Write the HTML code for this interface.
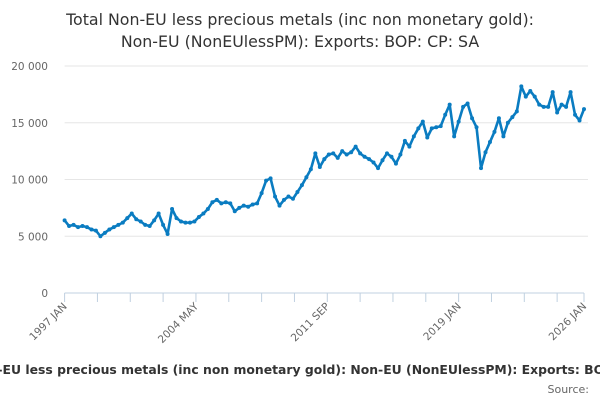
<!DOCTYPE html>
<html><head><meta charset="utf-8"><style>
body{margin:0;width:600px;height:400px;overflow:hidden;background:#fff;font-family:"DejaVu Sans",sans-serif}
</style></head><body>
<svg id="chart" width="600" height="400" xmlns="http://www.w3.org/2000/svg" font-family="DejaVu Sans, sans-serif">
<text x="300" y="25" text-anchor="middle" font-size="15.8" fill="#333">Total Non-EU less precious metals (inc non monetary gold):</text>
<text x="300" y="47" text-anchor="middle" font-size="15.8" fill="#333">Non-EU (NonEUlessPM): Exports: BOP: CP: SA</text>
<g id="grid"></g><g id="xaxis"></g><g id="series"></g>
<text x="300" y="374" text-anchor="middle" font-size="12.4" font-weight="bold" fill="#333">Total Non-EU less precious metals (inc non monetary gold): Non-EU (NonEUlessPM): Exports: BOP: CP: SA</text>
<text x="589" y="393" text-anchor="end" font-size="11" fill="#666">Source:</text>
</svg>
<script>
const yTicks=[0,5000,10000,15000,20000];
const yTickLabels=["0","5 000","10 000","15 000","20 000"];
const xTickLabels=["1997 JAN","2004 MAY","2011 SEP","2019 JAN","2026 JAN"];
const xTickMonths=[0,88,176,264,348];
const startYear=1997;
const values=[
6400,5900,6000,5800, 5900,5800,5600,5500, 5000,5300,5600,5800, 6000,6200,6600,7000,
6500,6300,6000,5900, 6400,7000,6000,5200, 7400,6600,6300,6200, 6200,6300,6700,7000,
7400,8000,8200,7900, 8000,7900,7200,7500, 7700,7600,7800,7900, 8800,9900,10100,8500,
7700,8200,8500,8300, 8900,9500,10200,10900, 12300,11100,11800,12200, 12300,11900,12500,12200,
12400,12900,12300,12000, 11800,11500,11000,11700, 12300,12000,11400,12200, 13400,12900,13800,14500,
15100,13700,14500,14600, 14700,15700,16600,13800, 15100,16400,16700,15400, 14600,11000,12400,13300,
14200,15400,13800,15000, 15500,16000,18200,17300, 17800,17300,16600,16400, 16400,17700,15900,16600,
16400,17700,15700,15200, 16200];
const NS="http://www.w3.org/2000/svg";
const x0=64.6,x1=584,y0=293,y1=66;
const xm=m=>x0+(x1-x0)*m/348;
const y=v=>y0-(y0-y1)*v/20000;
function mk(t,a,p){const e=document.createElementNS(NS,t);for(const k in a)e.setAttribute(k,a[k]);p.appendChild(e);return e;}
const grid=document.getElementById('grid');
yTicks.forEach((v,i)=>{
 if(v>0){const l=mk('line',{x1:x0,x2:x1+4,y1:y(v),y2:y(v),stroke:'#e6e6e6','stroke-width':1},grid);
 
 }
 const t=mk('text',{x:48,y:y(v)+4,'text-anchor':'end','font-size':10.5,fill:'#666'},grid);
 t.textContent=yTickLabels[i];
 
 
});
const xa=document.getElementById('xaxis');
const ax=mk('line',{x1:x0,x2:x1,y1:y0,y2:y0,stroke:'#c0d0e0','stroke-width':1},xa);


for(let m=0;m<=348;m+=22){const tk=mk('line',{x1:xm(m),x2:xm(m),y1:y0,y2:y0+9,stroke:'#c0d0e0'},xa);
 
 }
const last=mk('line',{x1:xm(348),x2:xm(348),y1:y0,y2:y0+9,stroke:'#c0d0e0'},xa);


xTickLabels.forEach((s,i)=>{const px=xm(xTickMonths[i]);
 const t=mk('text',{x:px+3,y:y0+14,'text-anchor':'end','font-size':10.5,fill:'#666',transform:`rotate(-45 ${px+3} ${y0+14})`},xa);
 t.textContent=s;
 
 });
const sg=document.getElementById('series');
const pts=values.map((v,i)=>[xm(i*3),y(v)]);
const pl=mk('polyline',{points:pts.map(p=>p.join(',')).join(' '),fill:'none',stroke:'#0a7cc1','stroke-width':2.6,'stroke-linejoin':'round'},sg);


pts.forEach(p=>{const c=mk('circle',{cx:p[0],cy:p[1],r:2,fill:'#0a7cc1'},sg);
 
 });
</script>
</body></html>
